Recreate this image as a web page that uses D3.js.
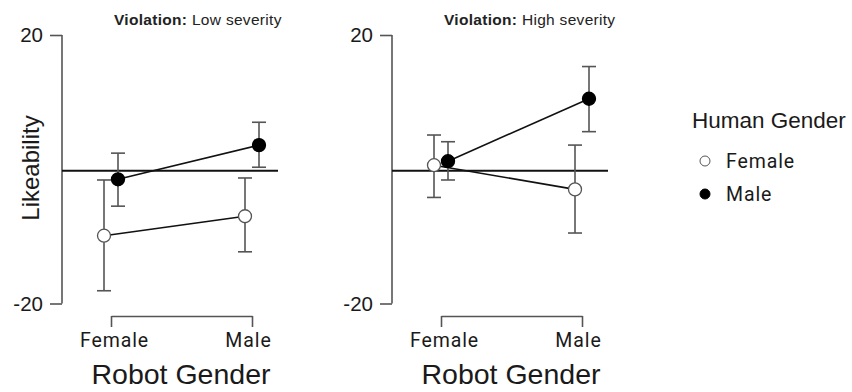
<!DOCTYPE html>
<html>
<head>
<meta charset="utf-8">
<script src="https://cdn.jsdelivr.net/npm/d3@7"></script>
<style>
  body { margin: 0; background: #fff; }
  svg { display: block; }
</style>
</head>
<body>
<div id="chart"></div>
<script>
// Interaction plot: likeability by robot gender and human gender, one panel per violation severity

const robotGenders = ['Female', 'Male'];
const humanGenders = ['Female', 'Male'];
const panels = ['Low severity', 'High severity'];
const yTicks = [-20, 20];

// mean, lower CI, upper CI  (index: robot gender Female, Male)
const lowFemaleMean = [-9.9, -7.0];
const lowFemaleLo = [-18.1, -12.3];
const lowFemaleHi = [-1.6, -1.3];
const lowMaleMean = [-1.5, 3.6];
const lowMaleLo = [-5.5, 0.3];
const lowMaleHi = [2.4, 7.0];

const highFemaleMean = [0.6, -3.0];
const highFemaleLo = [-4.2, -9.5];
const highFemaleHi = [5.1, 3.6];
const highMaleMean = [1.2, 10.5];
const highMaleLo = [-1.6, 5.6];
const highMaleHi = [4.1, 15.3];

const refValue = 0;

function buildSeries(mean, lo, hi) {
    return robotGenders.map((r, i) => ({ robot: r, mean: mean[i], lo: lo[i], hi: hi[i] }));
}

const panelData = [
    { title: panels[0], series: [
        { human: 'Female', points: buildSeries(lowFemaleMean, lowFemaleLo, lowFemaleHi) },
        { human: 'Male', points: buildSeries(lowMaleMean, lowMaleLo, lowMaleHi) }
    ]},
    { title: panels[1], series: [
        { human: 'Female', points: buildSeries(highFemaleMean, highFemaleLo, highFemaleHi) },
        { human: 'Male', points: buildSeries(highMaleMean, highMaleLo, highMaleHi) }
    ]}
];

const width = 852;
const height = 392;
const panelOffset = 330;
const axisX = 62;
const dodge = 7;
const gray = '#555';
const textColor = '#1a1a1a';
const tickFont = 'Roboto, "Liberation Sans", sans-serif';
const mainFont = 'Arial, "Liberation Sans", sans-serif';

const svg = d3.select('#chart')
    .append('svg')
    .attr('width', width)
    .attr('height', height);

const y = d3.scaleLinear().domain([-20, 20]).range([303.5, 35]);
const x = d3.scalePoint().domain(robotGenders).range([111, 252]);
const dx = d3.scalePoint().domain(humanGenders).range([-dodge, dodge]);

panelData.forEach((panel, p) => {
    const g = svg.append('g').attr('transform', `translate(${p * panelOffset}, 0)`);

    // Title
    const title = g.append('text')
        .attr('x', 114)
        .attr('y', 25)
        .attr('font-family', mainFont)
        .attr('font-size', 15.5)
        .attr('letter-spacing', 0.3)
        .attr('fill', '#222');
    title.append('tspan').attr('font-weight', 'bold').text('Violation: ');
    title.append('tspan').attr('font-weight', 'normal').text(panel.title);

    // Y axis
    const yAxis = g.append('g')
        .attr('transform', `translate(${axisX}, 0)`)
        .call(d3.axisLeft(y).tickValues(yTicks).tickSize(12).tickPadding(7).tickFormat(d => String(d)));
    yAxis.select('.domain').attr('stroke', gray).attr('stroke-width', 1.6).attr('d', `M0,${y(20)}V${y(-20)}`);
    yAxis.selectAll('.tick line').attr('stroke', gray).attr('stroke-width', 1.6);
    yAxis.selectAll('.tick text')
        .attr('font-family', mainFont)
        .attr('font-size', 20.5)
        .attr('fill', textColor);

    // X axis as bracket
    const xAxis = g.append('g')
        .attr('transform', 'translate(0, 316)')
        .call(d3.axisBottom(x).tickSize(11).tickPadding(6).tickSizeOuter(0));
    xAxis.select('.domain').attr('stroke', gray).attr('stroke-width', 1.6);
    xAxis.selectAll('.tick line').attr('stroke', gray).attr('stroke-width', 1.6);
    xAxis.selectAll('.tick text')
        .attr('font-family', tickFont)
        .attr('font-weight', 400)
        .attr('font-size', 19.5)
        .attr('letter-spacing', 0.9)
        .attr('fill', textColor)
        .attr('dx', (d, i) => i === 0 ? 3 : -4);

    g.append('text')
        .attr('x', 181)
        .attr('y', 384)
        .attr('text-anchor', 'middle')
        .attr('font-family', mainFont)
        .attr('font-size', 28.5)
        .attr('fill', textColor)
        .text('Robot Gender');

    // Reference line
    g.append('line')
        .attr('x1', axisX)
        .attr('x2', 278)
        .attr('y1', y(refValue) + 1.5)
        .attr('y2', y(refValue) + 1.5)
        .attr('stroke', '#111')
        .attr('stroke-width', 2.2);

    // Series lines
    const line = d3.line()
        .x(d => x(d.robot))
        .y(d => y(d.mean));

    panel.series.forEach(s => {
        g.append('path')
            .datum(s.points)
            .attr('transform', `translate(${dx(s.human)}, 0)`)
            .attr('d', line)
            .attr('fill', 'none')
            .attr('stroke', '#111')
            .attr('stroke-width', 1.6);
    });

    // Error bars
    panel.series.forEach(s => {
        const eg = g.append('g').attr('transform', `translate(${dx(s.human)}, 0)`);
        s.points.forEach(d => {
            const cx = x(d.robot);
            eg.append('line')
                .attr('x1', cx).attr('x2', cx)
                .attr('y1', y(d.lo)).attr('y2', y(d.hi))
                .attr('stroke', gray).attr('stroke-width', 1.6);
            [d.lo, d.hi].forEach(v => {
                eg.append('line')
                    .attr('x1', cx - 7).attr('x2', cx + 7)
                    .attr('y1', y(v)).attr('y2', y(v))
                    .attr('stroke', gray).attr('stroke-width', 1.6);
            });
        });
    });

    // Points
    panel.series.forEach(s => {
        g.append('g')
            .attr('transform', `translate(${dx(s.human)}, 0)`)
            .selectAll('circle')
            .data(s.points)
            .join('circle')
            .attr('cx', d => x(d.robot))
            .attr('cy', d => y(d.mean))
            .attr('r', 6.5)
            .attr('fill', s.human === 'Male' ? '#000' : '#fff')
            .attr('stroke', s.human === 'Male' ? '#000' : gray)
            .attr('stroke-width', 1.3);
    });
});

// Y axis title
svg.append('text')
    .attr('transform', 'translate(39, 168) rotate(-90)')
    .attr('text-anchor', 'middle')
    .attr('font-family', mainFont)
    .attr('font-size', 24)
    .attr('fill', textColor)
    .text('Likeability');

// Legend
const legend = svg.append('g');
legend.append('text')
    .attr('x', 692)
    .attr('y', 128)
    .attr('font-family', mainFont)
    .attr('font-size', 22.5)
    .attr('fill', textColor)
    .text('Human Gender');

const ly = d3.scalePoint().domain(humanGenders).range([161, 194]);
const items = legend.selectAll('g.item')
    .data(humanGenders)
    .join('g')
    .attr('class', 'item')
    .attr('transform', d => `translate(0, ${ly(d)})`);
items.append('circle')
    .attr('cx', 705)
    .attr('cy', 0)
    .attr('r', 5)
    .attr('fill', d => d === 'Male' ? '#000' : '#fff')
    .attr('stroke', d => d === 'Male' ? '#000' : gray)
    .attr('stroke-width', 1);
items.append('text')
    .attr('x', 726)
    .attr('y', 6.5)
    .attr('font-family', tickFont)
    .attr('font-weight', 400)
    .attr('font-size', 19.5)
    .attr('letter-spacing', 0.9)
    .attr('fill', textColor)
    .text(d => d);
</script>
</body>
</html>
